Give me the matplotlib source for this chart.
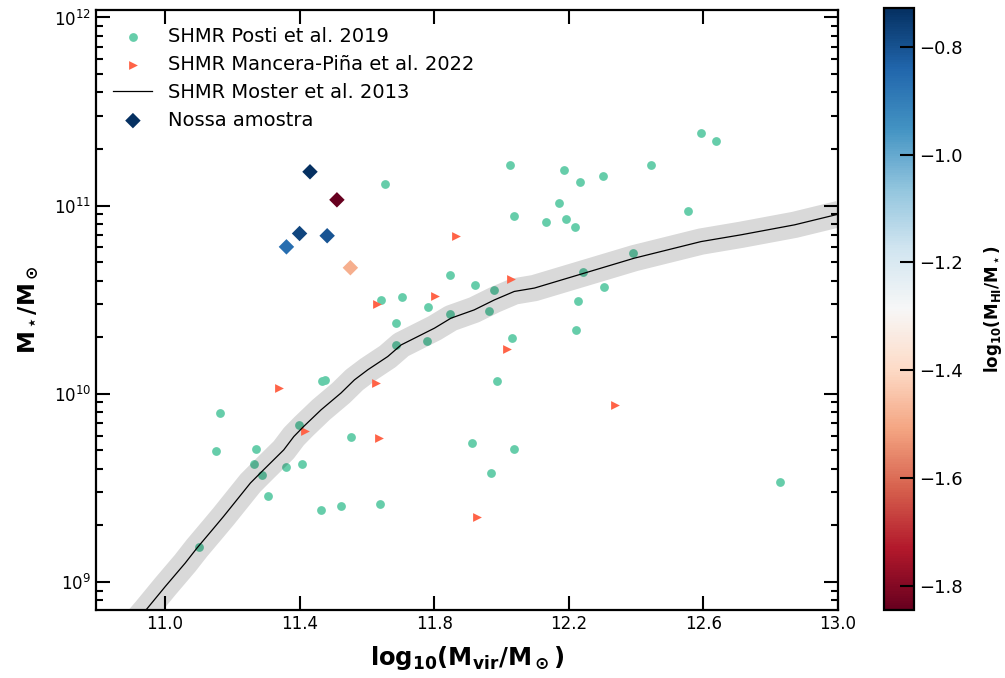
import numpy as np
import matplotlib
matplotlib.use("Agg")
import matplotlib.pyplot as plt

# SHMR Posti et al. 2019 (log10 Mvir, log10 M*)
posti_logmvir = [12.593, 12.639, 12.024, 12.186, 12.234, 12.303, 12.445, 12.170,
                 12.037, 12.133, 12.191, 12.218, 12.555, 12.390, 12.243, 12.306,
                 12.227, 12.221, 12.031, 11.847, 11.921, 11.978, 11.641, 11.705,
                 11.783, 11.847, 11.962, 11.688, 11.688, 11.778, 11.466, 11.476,
                 11.988, 11.399, 11.554, 11.912, 12.038, 11.970, 11.163, 11.153,
                 11.270, 11.264, 11.289, 11.359, 11.406, 11.305, 11.101, 11.465,
                 11.522, 11.638, 12.829, 11.653]
posti_logmstar = [11.388, 11.346, 11.215, 11.187, 11.126, 11.160, 11.218, 11.016,
                  10.947, 10.914, 10.930, 10.887, 10.971, 10.749, 10.647, 10.570,
                  10.494, 10.340, 10.296, 10.629, 10.578, 10.551, 10.496, 10.512,
                  10.461, 10.425, 10.441, 10.376, 10.257, 10.283, 10.067, 10.071,
                  10.067, 9.832, 9.772, 9.737, 9.704, 9.577, 9.899, 9.696,
                  9.704, 9.626, 9.568, 9.611, 9.626, 9.458, 9.185, 9.382,
                  9.406, 9.414, 9.531, 11.114]

# SHMR Mancera-Piña et al. 2022
mp_logmvir = [11.865, 12.029, 11.802, 11.631, 11.339, 11.627, 11.415, 11.636,
              12.016, 12.338, 11.926]
mp_logmstar = [10.841, 10.609, 10.520, 10.477, 10.033, 10.060, 9.801, 9.767,
               10.238, 9.942, 9.347]

# SHMR Moster et al. 2013
moster_logmvir = [10.900, 10.944, 11.001, 11.060, 11.095, 11.145, 11.174, 11.214,
                  11.254, 11.293, 11.353, 11.383, 11.412, 11.464, 11.523, 11.563,
                  11.603, 11.662, 11.702, 11.751, 11.801, 11.850, 11.919, 11.979,
                  12.038, 12.098, 12.197, 12.296, 12.395, 12.494, 12.593, 12.712,
                  12.871, 13.004]
moster_logmstar = [8.760, 8.852, 8.976, 9.100, 9.180, 9.286, 9.348, 9.437,
                   9.526, 9.596, 9.702, 9.773, 9.826, 9.915, 10.004, 10.074,
                   10.128, 10.198, 10.260, 10.304, 10.349, 10.402, 10.446, 10.499,
                   10.544, 10.562, 10.615, 10.668, 10.721, 10.765, 10.809, 10.845,
                   10.898, 10.956]

# Nossa amostra
amostra_logmvir = [11.431, 11.511, 11.400, 11.482, 11.361, 11.551]
amostra_logmstar = [11.180, 11.031, 10.852, 10.840, 10.781, 10.670]
amostra_loghi = [-0.728, -1.845, -0.773, -0.806, -0.862, -1.49]

fig = plt.figure(figsize=(10.05, 6.78), dpi=100)
ax = fig.add_axes([0.0955, 0.1003, 0.7383, 0.885])
cax = fig.add_axes([0.8796, 0.1003, 0.0299, 0.888])

ax.scatter(posti_logmvir, 10**np.array(posti_logmstar), s=40, c='mediumaquamarine',
           marker='o', linewidths=0, label='SHMR Posti et al. 2019', zorder=1)
# faixa cinza em volta da relação de Moster
ax.plot(moster_logmvir, 10**np.array(moster_logmstar), color='k', alpha=0.15, lw=19,
        solid_capstyle='butt', solid_joinstyle='round', zorder=2)
ax.scatter(mp_logmvir, 10**np.array(mp_logmstar), s=40, c='tomato', marker='>',
           linewidths=0, label='SHMR Mancera-Piña et al. 2022', zorder=3)
ax.plot(moster_logmvir, 10**np.array(moster_logmstar), color='k', lw=0.9,
        label='SHMR Moster et al. 2013', zorder=3)
sc = ax.scatter(amostra_logmvir, 10**np.array(amostra_logmstar), s=62, c=amostra_loghi,
                cmap='RdBu', marker='D', linewidths=0, label='Nossa amostra', zorder=4)

ax.set_yscale('log')
ax.set_xlim(10.795, 13.0)
ax.set_ylim(10**8.851, 10**12.04)
ax.set_xticks([11.0, 11.4, 11.8, 12.2, 12.6, 13.0])
ax.set_xticklabels(['11.0', '11.4', '11.8', '12.2', '12.6', '13.0'])

ax.tick_params(which='both', direction='in', top=True, right=True, labelsize=12, width=1.5)
ax.tick_params(which='major', length=10)
ax.tick_params(which='minor', length=5)
for sp in ax.spines.values():
    sp.set_linewidth(1.6)

ax.set_xlabel(r'$\mathbf{log_{10}(M_{vir}/M_\odot)}$', fontsize=17.5, labelpad=8)
ax.set_ylabel(r'$\mathbf{M_\star/M_\odot}$', fontsize=16.5, labelpad=9)

leg = ax.legend(loc='upper left', frameon=False, fontsize=14, labelspacing=0.45)

cb = fig.colorbar(sc, cax=cax)
cb.set_ticks([-0.8, -1.0, -1.2, -1.4, -1.6, -1.8])
cb.ax.tick_params(direction='in', length=10, width=1.5, labelsize=13)
cb.outline.set_linewidth(1.6)
cb.set_label(r'$\mathbf{log_{10}(M_{HI}/M_\star)}$', fontsize=12, labelpad=14)

fig.savefig('out.png', dpi=100)
